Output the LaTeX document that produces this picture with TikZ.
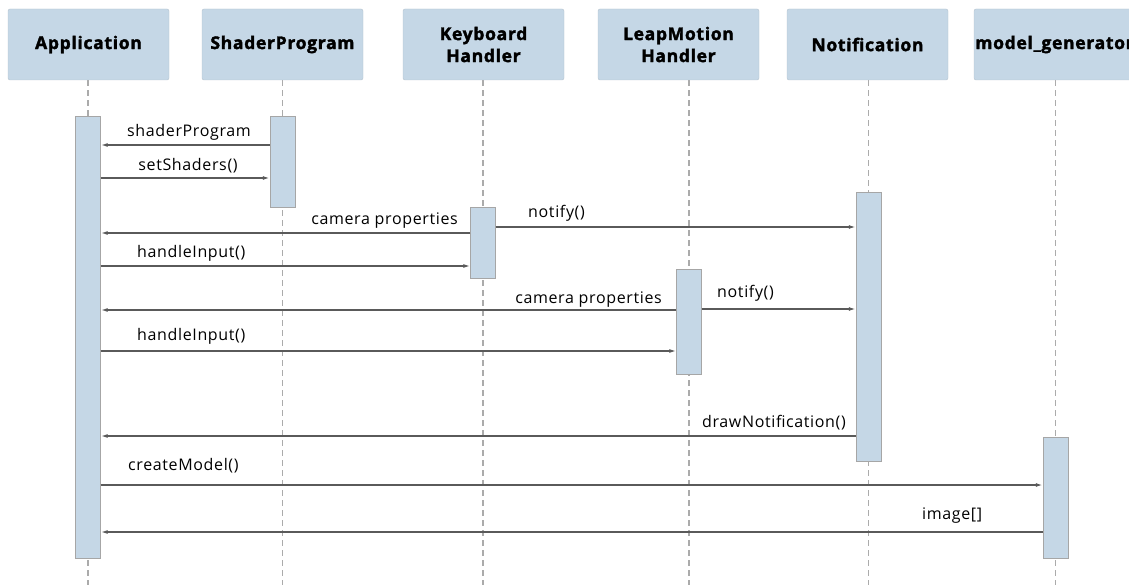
\documentclass[tikz,border=0pt]{standalone}
\usepackage{fontspec}
\setmainfont{Open Sans}[LetterSpace=4]
\newfontfamily\headfont[LetterSpace=4, BoldFeatures={FakeBold=2}]{Open Sans}
\usetikzlibrary{arrows.meta,backgrounds}
\definecolor{boxblue}{HTML}{C5D7E6}
\definecolor{boxedge}{HTML}{B4C2CE}
\definecolor{msggray}{HTML}{5A5A5A}
\definecolor{lifegray}{HTML}{ABABAB}

\begin{document}
\begin{tikzpicture}[x=1pt, y=-1pt]
        \tikzset{head/.style = {draw=boxedge, fill=boxblue, rounded corners=2pt, minimum width=161pt, minimum height=71pt, inner sep=0pt, align=center, font=\headfont\fontsize{17.5}{22}\selectfont\bfseries}}
        \tikzset{bar/.style = {draw=gray!70, fill=boxblue, minimum width=25pt, inner sep=0pt, anchor=north}}
        \tikzset{life/.style = {draw=lifegray, line width=1.2pt, dash pattern=on 6pt off 4pt}}
        \tikzset{msg/.style = {-{Latex[length=7pt,width=4pt]}, draw=msggray, line width=1.5pt}}
        \tikzset{lbl/.style = {font=\fontsize{16}{18}\selectfont, inner sep=0pt}}
        \useasboundingbox (0,0) rectangle (1129,585);
        % participants
        \node[head] (app) at (88.5,44.5) {Application};
        \node[head] (sp) at (282.5,44.5) {ShaderProgram};
        \node[head] (kb) at (483.5,44.5) {Keyboard\\Handler};
        \node[head] (lm) at (678.5,44.5) {LeapMotion\\Handler};
        \node[head] (nt) at (867.5,44.5) {Notification};
        \node[head] (mg) at (1054.5,44.5) {model\_generator};

        % activation bars
        \node[bar, minimum height=442pt] (appbar) at (88,116) {};
        \node[bar, minimum height=91pt] (spbar) at (282.5,116) {};
        \node[bar, minimum height=71pt] (kbbar) at (483,207) {};
        \node[bar, minimum height=105pt] (lmbar) at (689,269) {};
        \node[bar, minimum height=269pt] (ntbar) at (868.5,192) {};
        \node[bar, minimum height=121pt] (mgbar) at (1055.5,437) {};

        % lifelines
        \begin{scope}[on background layer]
        \draw[life] (app.south -| appbar.center) -- (appbar.center |- 0,585);
        \draw[life] (sp.south -| spbar.center) -- (spbar.center |- 0,585);
        \draw[life] (kb.south -| kbbar.center) -- (kbbar.center |- 0,585);
        \draw[life] (lm.south -| lmbar.center) -- (lmbar.center |- 0,585);
        \draw[life] (nt.south -| ntbar.center) -- (ntbar.center |- 0,585);
        \draw[life] (mg.south -| mgbar.center) -- (mgbar.center |- 0,585);
        \end{scope}

        % messages
        \draw[msg] (spbar.west |- 0,145) -- (appbar.east |- 0,145);
        \draw[msg] (appbar.east |- 0,178) -- (spbar.west |- 0,178);
        \draw[msg] (kbbar.west |- 0,233) -- (appbar.east |- 0,233);
        \draw[msg] (kbbar.east |- 0,227) -- (ntbar.west |- 0,227);
        \draw[msg] (appbar.east |- 0,266) -- (kbbar.west |- 0,266);
        \draw[msg] (lmbar.west |- 0,310) -- (appbar.east |- 0,310);
        \draw[msg] (lmbar.east |- 0,309) -- (ntbar.west |- 0,309);
        \draw[msg] (appbar.east |- 0,351) -- (lmbar.west |- 0,351);
        \draw[msg] (ntbar.west |- 0,436) -- (appbar.east |- 0,436);
        \draw[msg] (appbar.east |- 0,485) -- (mgbar.west |- 0,485);
        \draw[msg] (mgbar.west |- 0,532) -- (appbar.east |- 0,532);

        % labels
        \node[lbl, anchor=base] (shaderlbl) at (189,137) {shaderProgram};
        \node[lbl, anchor=base] (setlbl) at (188,171) {setShaders()};
        \node[lbl, anchor=base east] (camlbla) at (458,225) {camera properties};
        \node[lbl, anchor=base west] (notlbla) at (528,218) {notify()};
        \node[lbl, anchor=base west] (inplbla) at (137,258) {handleInput()};
        \node[lbl, anchor=base east] (camlblb) at (662,303) {camera properties};
        \node[lbl, anchor=base west] (notlblb) at (717,298) {notify()};
        \node[lbl, anchor=base west] (inplblb) at (137,340) {handleInput()};
        \node[lbl, anchor=base east] (drawlbl) at (846,427) {drawNotification()};
        \node[lbl, anchor=base west] (modlbl) at (128,470) {createModel()};
        \node[lbl, anchor=base west] (imglbl) at (922,519) {image[]};
\end{tikzpicture}
\end{document}
